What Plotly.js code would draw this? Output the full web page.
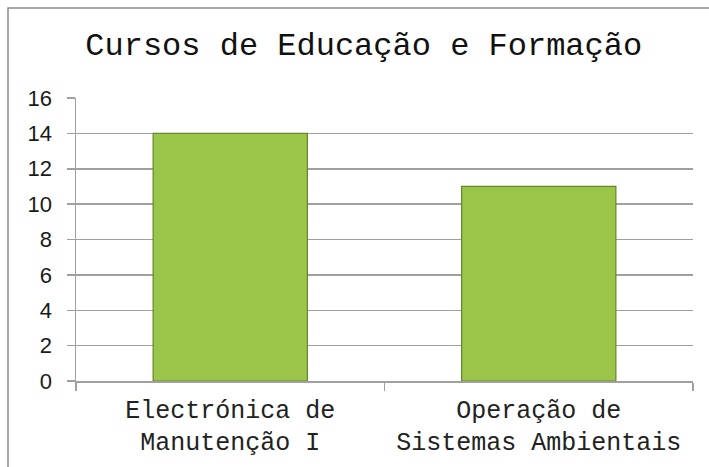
<!DOCTYPE html>
<html>
<head>
<meta charset="utf-8">
<script src="https://cdn.plot.ly/plotly-3.0.1.min.js"></script>
<style>
html,body{margin:0;padding:0;background:#fff;}
#chart{width:709px;height:467px;}
</style>
</head>
<body>
<div id="chart"></div>
<script>
const categories = ["Electrónica de<br>Manutenção I", "Operação de<br>Sistemas Ambientais"];
const values = [14, 11];
const yTickVals = [0, 2, 4, 6, 8, 10, 12, 14, 16];
const chartTitle = "Cursos de Educação e Formação";

const trace = {
  type: "bar",
  x: categories,
  y: values,
  width: 0.5,
  marker: {
    color: "#9ac549",
    line: {color: "#66862a", width: 1.2}
  },
  hoverinfo: "none"
};

const layout = {
  width: 709,
  height: 467,
  margin: {l: 76, r: 16, t: 98, b: 86},
  paper_bgcolor: "#ffffff",
  plot_bgcolor: "#ffffff",
  showlegend: false,
  title: {
    text: chartTitle,
    font: {family: "Liberation Mono, Courier New, monospace", size: 32, color: "#111"},
    x: 0.513, xref: "container", xanchor: "center",
    y: 0.906, yref: "container", yanchor: "middle"
  },
  xaxis: {
    type: "category",
    showgrid: false,
    showline: true,
    linecolor: "#a0a0a0",
    linewidth: 1.5,
    ticks: "outside",
    tickson: "boundaries",
    ticklen: 8,
    tickcolor: "#a0a0a0",
    tickwidth: 1.5,
    tickfont: {family: "Liberation Mono, Courier New, monospace", size: 25, color: "#222"},
    ticklabelstandoff: 5,
    fixedrange: true
  },
  yaxis: {
    range: [0, 16],
    tickvals: yTickVals,
    ticktext: yTickVals.map(String),
    showgrid: true,
    gridcolor: "#a0a0a0",
    gridwidth: 1.5,
    showline: true,
    linecolor: "#a0a0a0",
    linewidth: 1.5,
    ticks: "outside",
    ticklen: 8,
    tickcolor: "#a0a0a0",
    tickwidth: 1.5,
    zeroline: false,
    tickfont: {family: "Liberation Sans, Arial, sans-serif", size: 22, color: "#1a1a1a"},
    ticklabelstandoff: 10,
    fixedrange: true
  },
  shapes: [{
    type: "rect",
    xref: "paper", yref: "paper",
    x0: -0.1102, x1: 1.2, y0: -0.5, y1: 1.318,
    line: {color: "#8c8c8c", width: 1.5},
    fillcolor: "rgba(0,0,0,0)",
    layer: "below"
  }]
};

Plotly.newPlot("chart", [trace], layout, {displayModeBar: false, staticPlot: true});
</script>
</body>
</html>
